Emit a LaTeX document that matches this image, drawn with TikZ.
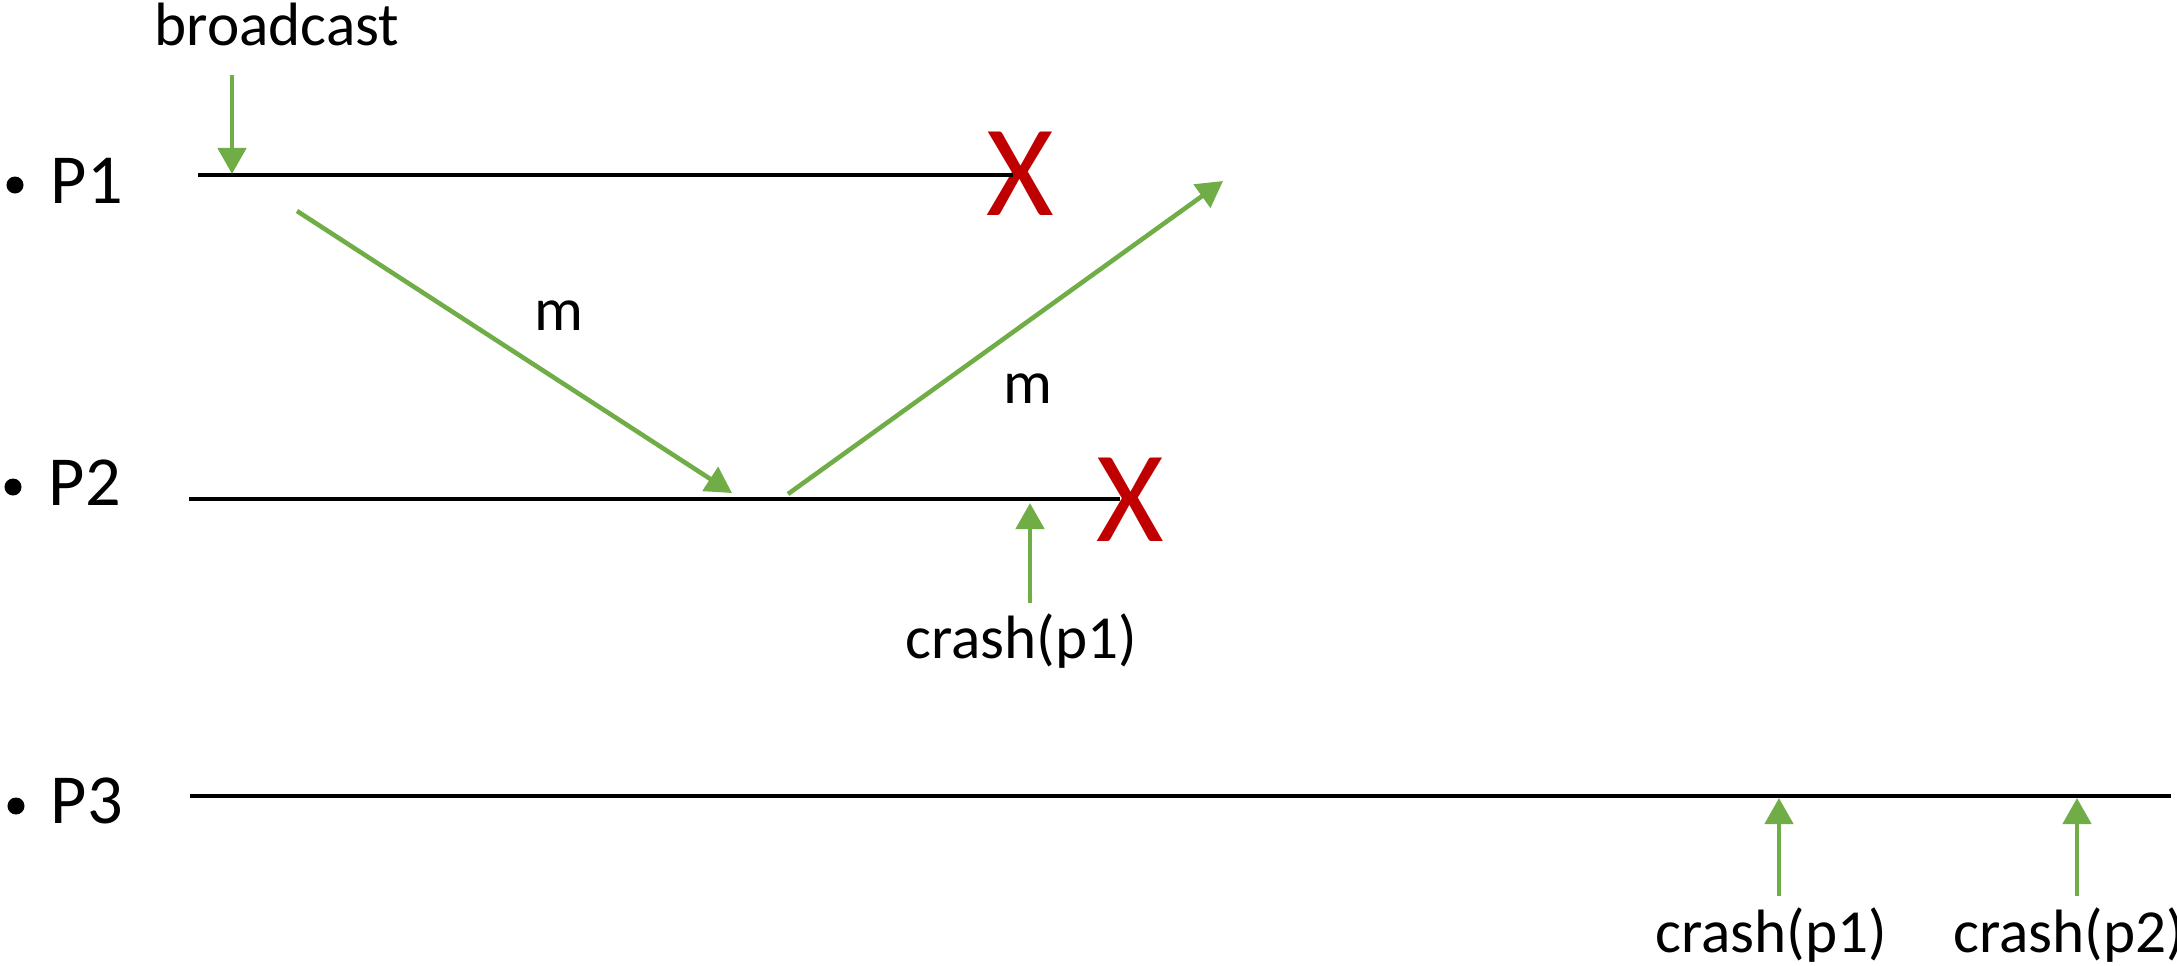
\documentclass[tikz,border=0pt]{standalone}
\usepackage{fontspec}
\setmainfont{Carlito}
\usetikzlibrary{arrows.meta}
\definecolor{ggreen}{HTML}{70AD47}
\definecolor{xred}{HTML}{C00000}
\begin{document}
\begin{tikzpicture}[x=0.01cm,y=-0.01cm,
  timeline/.style={line width=1.25pt,black},
  msg/.style={line width=1.3pt,ggreen,-{Triangle[width=0.28cm,length=0.26cm]}},
  lbl/.style={inner sep=0pt,font=\fontsize{17.4}{20}\selectfont},
  plbl/.style={inner sep=0pt,anchor=base west,font=\fontsize{20}{24}\selectfont},
  bul/.style={circle,fill=black,inner sep=0pt,minimum size=0.17cm},
  cross/.style={inner sep=0pt,text=xred,font=\fontsize{37}{40}\selectfont}]
\useasboundingbox (0,0) rectangle (2177,966);
% process labels
\node[bul] (b1) at (15,185) {};
\node[plbl] (p1) at (50,203) {P1};
\node[bul] (b2) at (13,487) {};
\node[plbl] (p2) at (48,505) {P2};
\node[bul] (b3) at (16,806) {};
\node[plbl] (p3) at (50,823) {P3};
% timelines
\coordinate (l1s) at (198,175);
\node[cross] (x1) at (1020,174) {X};
\coordinate (l1e) at (1013,175);
\coordinate (l2s) at (189,499);
\node[cross] (x2) at (1130,500) {X};
\coordinate (l2e) at (1120,499);
\coordinate (l3s) at (190,796);
\coordinate (l3e) at (2171,796);
\draw[timeline] (l1s) -- (l1e);
\draw[timeline] (l2s) -- (l2e);
\draw[timeline] (l3s) -- (l3e);
% broadcast
\node[lbl,anchor=base] (bc) at (277,45) {broadcast};
\coordinate (bcs) at (232,75);
\coordinate (bct) at (232,174);
\draw[msg] (bcs) -- (bct);
% messages
\coordinate (m1s) at (297,211);
\coordinate (m1t) at (732,493);
\draw[msg] (m1s) -- (m1t);
\node[lbl] (m1) at (559,316) {m};
\coordinate (m2s) at (788,494);
\coordinate (m2t) at (1223,181);
\draw[msg] (m2s) -- (m2t);
\node[lbl] (m2) at (1028,389) {m};
% crash notifications
\node[lbl,anchor=base] (c21) at (1021,658) {crash(p1)};
\coordinate (c21s) at (1030,603);
\coordinate (c21t) at (1030,503);
\draw[msg] (c21s) -- (c21t);
\node[lbl,anchor=base] (c31) at (1771,952) {crash(p1)};
\coordinate (c31s) at (1779,896);
\coordinate (c31t) at (1779,798);
\draw[msg] (c31s) -- (c31t);
\node[lbl,anchor=base] (c32) at (2069,952) {crash(p2)};
\coordinate (c32s) at (2077,896);
\coordinate (c32t) at (2077,798);
\draw[msg] (c32s) -- (c32t);
\end{tikzpicture}
\end{document}
